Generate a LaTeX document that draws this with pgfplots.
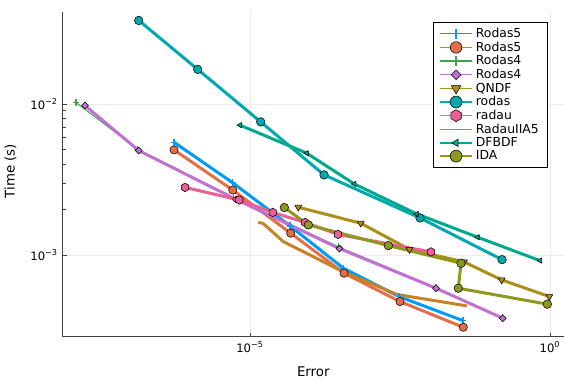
\documentclass[border=0pt]{standalone}
\usepackage{pgfplots}
\pgfplotsset{compat=1.18}
\usepackage{fontspec}
\setmainfont{DejaVu Sans}
\usetikzlibrary{plotmarks}
\definecolor{jblue}{HTML}{009AFA}
\definecolor{jorange}{HTML}{E36F47}
\definecolor{jgreen}{HTML}{3EA44E}
\definecolor{jpurple}{HTML}{C271D2}
\definecolor{jolive}{HTML}{AC8E18}
\definecolor{jteal}{HTML}{00A9AD}
\definecolor{jpink}{HTML}{ED5E93}
\definecolor{jbrown}{HTML}{C68225}
\definecolor{jsea}{HTML}{00A98D}
\definecolor{jmoss}{HTML}{8E971E}
\pgfdeclareplotmark{hexagon*}{%
  \pgfpathmoveto{\pgfqpoint{0pt}{\pgfplotmarksize}}%
  \pgfpathlineto{\pgfqpoint{0.866\pgfplotmarksize}{0.5\pgfplotmarksize}}%
  \pgfpathlineto{\pgfqpoint{0.866\pgfplotmarksize}{-0.5\pgfplotmarksize}}%
  \pgfpathlineto{\pgfqpoint{0pt}{-\pgfplotmarksize}}%
  \pgfpathlineto{\pgfqpoint{-0.866\pgfplotmarksize}{-0.5\pgfplotmarksize}}%
  \pgfpathlineto{\pgfqpoint{-0.866\pgfplotmarksize}{0.5\pgfplotmarksize}}%
  \pgfpathclose\pgfusepathqfillstroke}
\begin{document}
\begin{tikzpicture}
\path[use as bounding box] (0,0) rectangle (432pt,288pt);
\begin{axis}[
  at={(46.9pt,35.5pt)}, anchor=south west,
  scale only axis, width=376.1pt, height=243.5pt,
  xmode=log, ymode=log,
  xmin=7.5e-9, xmax=1.71, ymin=2.876e-4, ymax=0.0406,
  axis x line*=bottom, axis y line*=left,
  axis line style={-, black!75, line width=0.6pt},
  xtick={1e-5,1}, xticklabels={{10\textsuperscript{−5}},{10\textsuperscript{0}}},
  ytick={1e-3,1e-2}, yticklabels={{10\textsuperscript{−3}},{10\textsuperscript{−2}}},
  minor tick num=0, minor xtick={}, minor ytick={},
  tick align=inside, major tick length=3pt,
  tick style={black!75, line width=0.5pt},
  ticklabel style={font=\fontsize{8.7}{10}\selectfont},
  grid=major, major grid style={black!8, line width=0.5pt},
  xlabel={Error}, ylabel={Time (s)},
  label style={font=\fontsize{14.2}{16}\selectfont},
  every axis x label/.style={at={(axis description cs:0.5,-0.1087)}, anchor=center},
  every axis y label/.style={at={(axis description cs:-0.1040,0.51)}, rotate=90, anchor=center},
  legend style={at={(0.967,0.968)}, anchor=north east, draw=black, line width=0.5pt,
    font=\fontsize{9.3}{10.5}\selectfont, row sep=-2.3pt, inner xsep=4.2pt, inner ysep=2pt, cells={anchor=west}},
  legend image code/.code={\draw[mark repeat=2,mark phase=2] plot coordinates {(0pt,0pt)(12.3pt,0pt)(24.6pt,0pt)};},
  legend image post style={line width=1pt, /tikz/every mark/.append style={scale=1.4}},
  every axis plot/.append style={line width=2.25pt, line join=round},
]
% Rodas5 (cross)
\addplot[color=jblue, mark=+, mark size=2.6pt, mark options={line width=0.9pt, draw=jblue}] coordinates {
(5.41e-7,5.57e-3) (5.11e-6,3.01e-3) (4.64e-5,1.556e-3) (3.59e-4,8.17e-4) (3.04e-3,5.30e-4) (3.55e-2,3.67e-4)};
\addlegendentry{Rodas5}
% Rodas5 (circle)
\addplot[color=jorange, mark=*, mark size=3.1pt, mark options={fill=jorange, draw=black, line width=0.4pt}] coordinates {
(5.41e-7,4.96e-3) (5.15e-6,2.69e-3) (4.76e-5,1.393e-3) (3.69e-4,7.57e-4) (3.16e-3,4.91e-4) (3.59e-2,3.32e-4)};
\addlegendentry{Rodas5}
% Rodas4 (cross)
\addplot[color=jgreen, line width=0.75pt, mark=+, mark size=2.6pt, mark options={line width=0.9pt, draw=jgreen}] coordinates {
(1.259e-8,1.02e-2) (1.35e-7,5.0e-3) (5.3e-6,2.40e-3) (3.0e-4,1.13e-3) (1.24e-2,6.1e-4) (0.16,3.85e-4)};
\addlegendentry{Rodas4}
% Rodas4 (diamond)
\addplot[color=jpurple, mark=square*, mark size=1.85pt, mark options={rotate=45, fill=jpurple, draw=black, line width=0.4pt}] coordinates {
(1.778e-8,9.75e-3) (1.396e-7,4.91e-3) (5.84e-6,2.33e-3) (3.10e-4,1.101e-3) (1.259e-2,6.02e-4) (0.163,3.81e-4)};
\addlegendentry{Rodas4}
% QNDF
\addplot[color=jolive, mark=triangle*, mark size=3pt, mark options={rotate=180, fill=jolive, draw=black, line width=0.4pt}] coordinates {
(6.38e-5,2.07e-3) (7.00e-4,1.622e-3) (4.55e-3,1.087e-3) (3.69e-2,8.99e-4) (0.1567,6.83e-4) (0.973,5.30e-4)};
\addlegendentry{QNDF}
% rodas
\addplot[color=jteal, mark=*, mark size=3.2pt, mark options={fill=jteal, draw=black, line width=0.4pt}] coordinates {
(1.396e-7,3.57e-2) (1.343e-6,1.692e-2) (1.507e-5,7.60e-3) (1.711e-4,3.39e-3) (6.81e-3,1.758e-3) (0.1585,9.31e-4)};
\addlegendentry{rodas}
% radau
\addplot[color=jpink, mark=hexagon*, mark size=3.2pt, mark options={fill=jpink, draw=black, line width=0.4pt}] coordinates {
(8.26e-7,2.80e-3) (6.63e-6,2.31e-3) (2.39e-5,1.912e-3) (8.26e-5,1.641e-3) (2.93e-4,1.367e-3) (1.038e-2,1.047e-3)};
\addlegendentry{radau}
% RadauIIA5
\addplot[color=jbrown, mark=none,
  legend image code/.code={\draw[jbrown, line width=1.1pt] (0pt,0pt) -- (24.6pt,0pt);}] coordinates {
(1.374e-5,1.641e-3) (1.648e-5,1.618e-3) (3.59e-5,1.225e-3) (3.37e-4,7.83e-4) (2.82e-3,5.47e-4) (4.09e-2,4.60e-4)};
\addlegendentry{RadauIIA5}
% DFBDF
\addplot[color=jsea, mark=triangle*, mark size=2.3pt, mark options={rotate=90, fill=jsea, draw=black, line width=0.4pt}] coordinates {
(6.81e-6,7.23e-3) (8.81e-5,4.716e-3) (5.47e-4,2.95e-3) (6.00e-3,1.868e-3) (6.24e-2,1.309e-3) (0.681,9.17e-4)};
\addlegendentry{DFBDF}
% IDA
\addplot[color=jmoss, mark=*, mark size=3.2pt, mark options={fill=jmoss, draw=black, line width=0.4pt}] coordinates {
(3.73e-5,2.06e-3) (9.37e-5,1.58e-3) (2.02e-3,1.153e-3) (3.29e-2,8.81e-4) (2.96e-2,6.02e-4) (0.902,4.72e-4)};
\addlegendentry{IDA}
\end{axis}
\end{tikzpicture}
\end{document}
